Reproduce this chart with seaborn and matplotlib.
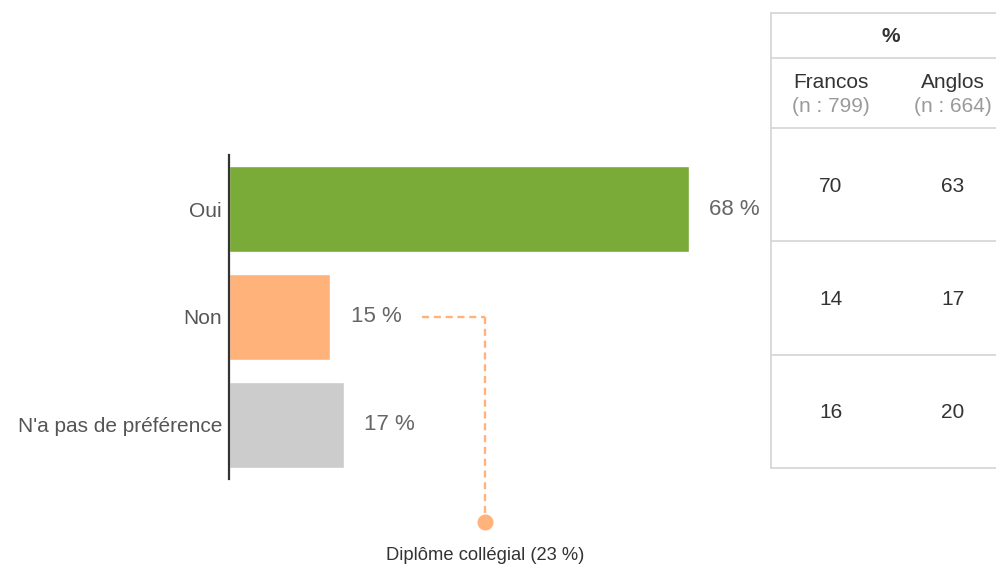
import matplotlib
matplotlib.use("Agg")
import matplotlib.pyplot as plt
import seaborn as sns
import pandas as pd
from matplotlib.lines import Line2D

# Survey answers (overall share, %)
categories = ["Oui", "Non", "N'a pas de préférence"]
overall = [68, 15, 17]
bar_colors = ["#7aaa37", "#ffb27a", "#cccccc"]

# Breakdown by language group
groups = ["Francos", "Anglos"]
group_n = ["(n : 799)", "(n : 664)"]
francos = [70, 14, 16]
anglos = [63, 17, 20]

# Callout on the "Non" answer
callout_text = "Diplôme collégial (23 %)"

sns.set_theme(style="white")
plt.rcParams["font.family"] = ["Liberation Sans", "DejaVu Sans"]

W, H = 996, 566
fig = plt.figure(figsize=(W / 100, H / 100), dpi=100)

# --- bar chart ---
ax = fig.add_axes([229 / W, 1 - 479 / H, 541 / W, 324 / H])
df = pd.DataFrame({"cat": categories, "val": overall})
sns.barplot(data=df, x="val", y="cat", hue="cat", orient="h",
            palette=dict(zip(categories, bar_colors)), width=0.8,
            legend=False, ax=ax, saturation=1)
ax.set_xlim(0, 80)
ax.set_ylim(2.5, -0.5)
ax.set_xlabel("")
ax.set_ylabel("")
ax.set_xticks([])
for s in ["top", "right", "bottom"]:
    ax.spines[s].set_visible(False)
ax.spines["left"].set_color("#333333")
ax.spines["left"].set_linewidth(1.6)
ax.tick_params(axis="y", length=0, pad=5, labelsize=15, labelcolor="#555555")
for i, v in enumerate(overall):
    ax.text(v + 3, i, f"{v} %", va="center", ha="left", fontsize=16,
            color="#666666")

# --- overlay in pixel coordinates for the table and callout ---
ov = fig.add_axes([0, 0, 1, 1], zorder=5)
ov.set_xlim(0, W)
ov.set_ylim(H, 0)
ov.axis("off")
ov.patch.set_alpha(0)

# callout leader from the "Non" label down to the marker
orange = "#ffb27a"
ov.plot([422, 485], [317, 317], ls=(0, (3, 2)), color=orange, lw=1.7)
ov.plot([485, 485], [317, 516], ls=(0, (3, 2)), color=orange, lw=1.7)
ov.plot([485], [522], "o", color=orange, ms=10.5)
ov.text(485, 556, callout_text, ha="center", va="center", fontsize=13.2,
        color="#333333")

# table
grid = "#d4d4d4"
tx0, tx1 = 771, 996
rows_y = [13, 58, 128, 241, 355, 468]
for y in rows_y:
    ov.add_line(Line2D([tx0, tx1], [y, y], color=grid, lw=1.2))
ov.add_line(Line2D([tx0, tx0], [rows_y[0], rows_y[-1]], color=grid, lw=1.2))

col_x = [831, 953]
ov.text(891, 37, "%", ha="center", va="center",
        fontsize=15, fontweight="bold", color="#333333")
for x, g, n in zip(col_x, groups, group_n):
    ov.text(x, 82, g, ha="center", va="center", fontsize=15, color="#333333")
    ov.text(x, 107, n, ha="center", va="center", fontsize=15, color="#9a9a9a")
for r in range(len(categories)):
    yc = (rows_y[r + 2] + rows_y[r + 3]) / 2 + 1.5
    ov.text(col_x[0], yc, str(francos[r]), ha="center", va="center",
            fontsize=15, color="#333333")
    ov.text(col_x[1], yc, str(anglos[r]), ha="center", va="center",
            fontsize=15, color="#333333")

fig.savefig("out.png", dpi=100)
